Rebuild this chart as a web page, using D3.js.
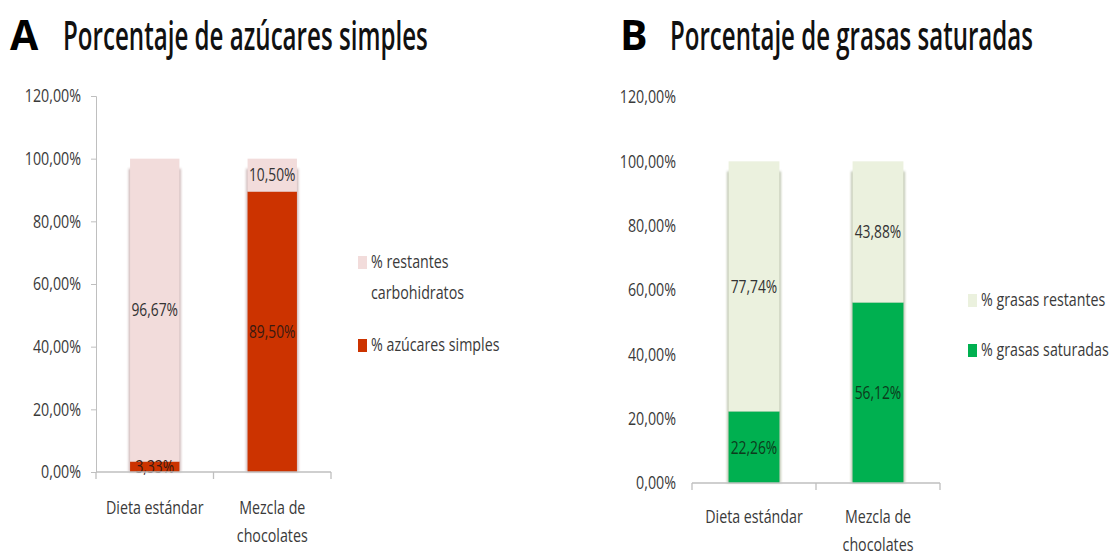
<!DOCTYPE html>
<html>
<head>
<meta charset="utf-8">
<script src="https://cdn.jsdelivr.net/npm/d3@7"></script>
<style>
  html, body { margin: 0; padding: 0; background: #fff; }
  svg { display: block; }
  text { font-family: "Open Sans", "Noto Sans", sans-serif; }
</style>
</head>
<body>
<svg id="fig" width="1117" height="557"></svg>
<script>
// ---- data ----
const categories = ["Dieta estándar", "Mezcla de chocolates"];
const categoryLines = [["Dieta estándar"], ["Mezcla de", "chocolates"]];

const azucaresSimples = [0.0333, 0.8950];
const restantesCarbohidratos = [0.9667, 0.1050];

const grasasSaturadas = [0.2226, 0.5612];
const grasasRestantes = [0.7774, 0.4388];

const yTicks = [0, 0.2, 0.4, 0.6, 0.8, 1.0, 1.2];

const legendA = ["% restantes carbohidratos", "% azúcares simples"];
const legendB = ["% grasas restantes", "% grasas saturadas"];

// ---- helpers ----
const pct = v => (v * 100).toFixed(2).replace(".", ",") + "%";
const svg = d3.select("#fig");

// horizontally condense a text element by factor k (keeps its anchor point)
function squeeze(sel, k) {
  sel.each(function () {
    const t = d3.select(this);
    const x = +t.attr("x") || 0, y = +t.attr("y") || 0;
    t.attr("x", 0).attr("y", 0)
     .attr("transform", `translate(${x},${y}) scale(${k},1)`);
  });
}
// condense a text element so that it spans width w
function fitWidth(sel, w) {
  sel.each(function () {
    const k = w / this.getComputedTextLength();
    d3.select(this).call(squeeze, k);
  });
}

const FS = 18.5;   // body text size
const K = 0.77;    // body text condensation

const defs = svg.append("defs");
defs.append("filter").attr("id", "soft").attr("x", "-50%").attr("width", "200%")
  .append("feGaussianBlur").attr("stdDeviation", 1.2);

function panel(opt) {
  const g = svg.append("g");
  const y = d3.scaleLinear().domain([0, 1.2]).range([opt.y0, opt.y120]);
  const x = d3.scaleBand().domain(categories).range([opt.xl, opt.xr])
    .paddingInner(opt.pad).paddingOuter(opt.pad / 2);

  // title
  g.append("text").attr("x", opt.letterX).attr("y", 50)
    .attr("font-family", "Liberation Sans, Arial, sans-serif")
    .attr("font-weight", 700).attr("font-size", 41).attr("fill", "#000")
    .text(opt.letter);
  g.append("text").attr("x", opt.titleX).attr("y", 50)
    .attr("font-weight", 600).attr("font-size", 40).attr("fill", "#111")
    .text(opt.title)
    .call(fitWidth, opt.titleW);

  // y axis
  const ya = d3.axisLeft(y).tickValues(yTicks).tickFormat(pct)
    .tickSize(opt.yAxisLine ? 5 : 0).tickPadding(opt.yAxisLine ? 10 : 16);
  const yg = g.append("g").attr("transform", `translate(${opt.xl},0)`).call(ya);
  yg.select(".domain").attr("stroke", opt.yAxisLine ? "#bfbfbf" : "none");
  yg.selectAll(".tick line").attr("stroke", "#bfbfbf");
  yg.selectAll(".tick text").attr("font-size", FS).attr("fill", "#3a3a3a")
    .call(squeeze, K);

  // stacked bars
  const rows = categories.map((c, i) => ({ cat: c, low: opt.low[i], high: opt.high[i] }));
  const stack = d3.stack().keys(["low", "high"])(rows);
  const colors = { low: opt.cLow, high: opt.cHigh };

  // soft shadow behind each full bar
  g.append("g").selectAll("rect").data(rows).join("rect")
    .attr("x", d => x(d.cat) - 1.5)
    .attr("width", x.bandwidth() + 3)
    .attr("y", d => y(d.low + d.high) + 10)
    .attr("height", d => y(0) - y(d.low + d.high) - 10)
    .attr("fill", opt.shadow).attr("filter", "url(#soft)");

  stack.forEach(layer => {
    g.append("g").selectAll("rect").data(layer).join("rect")
      .attr("x", d => x(d.data.cat))
      .attr("width", x.bandwidth())
      .attr("y", d => y(d[1]))
      .attr("height", d => y(d[0]) - y(d[1]))
      .attr("fill", colors[layer.key]);
  });

  // value labels
  stack.forEach(layer => {
    g.append("g").selectAll("text").data(layer).join("text")
      .attr("x", d => x(d.data.cat) + x.bandwidth() / 2)
      .attr("y", d => y((d[0] + d[1]) / 2))
      .attr("dy", "0.36em")
      .attr("text-anchor", "middle")
      .attr("font-size", 17.5)
      .attr("fill", layer.key === "low" ? opt.tLow : "#333")
      .text(d => pct(d.data[layer.key]))
      .call(squeeze, 0.79);
  });

  // x axis
  const xa = g.append("g");
  xa.append("line").attr("x1", opt.xl).attr("x2", opt.xr)
    .attr("y1", y(0)).attr("y2", y(0)).attr("stroke", "#bfbfbf").attr("stroke-width", 1.3);
  const bounds = [opt.xl, opt.xl + x.step(), opt.xr];
  xa.selectAll("line.t").data(bounds).join("line").attr("class", "t")
    .attr("x1", d => d).attr("x2", d => d)
    .attr("y1", y(0)).attr("y2", y(0) + 7)
    .attr("stroke", "#bfbfbf").attr("stroke-width", 1.3);

  categories.forEach((c, i) => {
    categoryLines[i].forEach((ln, j) => {
      xa.append("text")
        .attr("x", x(c) + x.bandwidth() / 2)
        .attr("y", opt.catY + j * opt.catLH)
        .attr("text-anchor", "middle").attr("font-size", FS).attr("fill", "#3a3a3a")
        .text(ln).call(squeeze, K);
    });
  });

  // legend
  const lg = g.append("g");
  opt.legend.forEach((it) => {
    lg.append("rect").attr("x", opt.legX).attr("y", it.y - 12)
      .attr("width", 9).attr("height", 13).attr("fill", it.color);
    it.lines.forEach((ln, j) => {
      lg.append("text").attr("x", opt.legX + 13).attr("y", it.y + j * 31)
        .attr("font-size", FS).attr("fill", "#3a3a3a")
        .text(ln).call(squeeze, K);
    });
  });
}

panel({
  letter: "A", letterX: 10, title: "Porcentaje de azúcares simples", titleX: 63, titleW: 365,
  y0: 472, y120: 96, xl: 96, xr: 331, pad: 0.58, yAxisLine: true,
  low: azucaresSimples, high: restantesCarbohidratos,
  cLow: "#cc3300", cHigh: "#f2dcdb", tLow: "#3a1a10", shadow: "rgba(120,60,60,0.35)",
  catY: 514, catLH: 28,
  legX: 358,
  legend: [
    { y: 268, color: "#f2dcdb", lines: ["% restantes", "carbohidratos"] },
    { y: 351, color: "#cc3300", lines: [legendA[1]] }
  ]
});

panel({
  letter: "B", letterX: 620, title: "Porcentaje de grasas saturadas", titleX: 670, titleW: 363,
  y0: 483, y120: 97, xl: 692, xr: 940, pad: 0.59, yAxisLine: false,
  low: grasasSaturadas, high: grasasRestantes,
  cLow: "#00b050", cHigh: "#ebf1de", tLow: "#0d3b1c", shadow: "rgba(90,110,60,0.4)",
  catY: 523, catLH: 28,
  legX: 968,
  legend: [
    { y: 306, color: "#ebf1de", lines: [legendB[0]] },
    { y: 356, color: "#00b050", lines: [legendB[1]] }
  ]
});
</script>
</body>
</html>
